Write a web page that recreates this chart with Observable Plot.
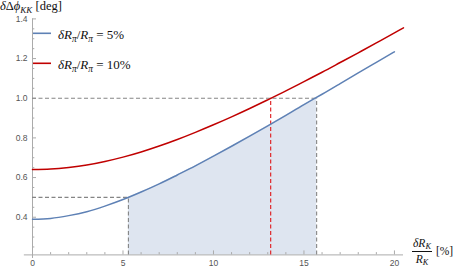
<!DOCTYPE html>
<html><head><meta charset="utf-8">
<script src="https://cdn.jsdelivr.net/npm/d3@7"></script>
<script src="https://cdn.jsdelivr.net/npm/@observablehq/plot@0.6"></script>
<style>
body{margin:0;background:#fff}
#wrap{position:relative;width:457px;height:271px;overflow:hidden}
#wrap svg{position:absolute;left:0;top:0}
.t{position:absolute;white-space:nowrap;font-family:"Liberation Serif","Times New Roman",serif;color:#111;line-height:1}
.t i{font-style:italic}
.t sub{font-size:72%;position:relative;top:0.28em;vertical-align:baseline;line-height:0}
.frac{display:inline-flex;flex-direction:column;align-items:center;vertical-align:middle}
.frac .num{border-bottom:0.8px solid #111;padding:0 1px 1px 1px}
.frac .den{padding-top:2px}
</style></head><body><div id="wrap"></div>
<script>
// ---- data ----
const xBlue = [0,1,2,3,4,5,6,7,8,9,10,11,12,13,14,15,16,17,18,19,20];
const blueVals = [0.390,0.394,0.408,0.428,0.456,0.489,0.527,0.568,0.613,0.659,0.708,0.758,0.809,0.861,0.914,0.968,1.020,1.074,1.128,1.181,1.234];
const xRed = [0,1,2,3,4,5,6,7,8,9,10,11,12,13,14,15,16,17,18,19,20,20.5];
const redVals = [0.640,0.643,0.651,0.663,0.681,0.703,0.729,0.759,0.792,0.828,0.866,0.906,0.948,0.992,1.037,1.084,1.131,1.180,1.229,1.279,1.330,1.355];
const lowCross = {x: 5.3, y: 0.5};    // blue reaches 0.5
const highCross = {x: 15.7, y: 1.0};  // blue reaches 1.0
const redCross = {x: 13.16, y: 1.0};  // red reaches 1.0
const xTicks = [0,5,10,15,20];
const xMinor = [1,2,3,4,6,7,8,9,11,12,13,14,16,17,18,19];
const yTicks = [0.4,0.6,0.8,1.0,1.2,1.4];
const yMinor = [0.25,0.3,0.35,0.45,0.5,0.55,0.65,0.7,0.75,0.85,0.9,0.95,1.05,1.1,1.15,1.25,1.3,1.35];
const xDomain = [0, 20.5];
const yDomain = [0.21, 1.4];

const blue = xBlue.map((x,i)=>({x, y: blueVals[i]}));
const red = xRed.map((x,i)=>({x, y: redVals[i]}));
const shade = [lowCross, ...blue.filter(d=>d.x>lowCross.x && d.x<highCross.x), highCross];

const cBlue = "#5E81B5", cRed = "#C00000", cRedDash = "#E0282A", cGray = "#858585", cAxis = "#ababab";
const yMin = yDomain[0];

const plot = Plot.plot({
  width: 457, height: 271,
  marginLeft: 32, marginRight: 54, marginTop: 18.4, marginBottom: 16.6,
  x: {domain: xDomain, axis: null},
  y: {domain: yDomain, axis: null},
  style: {background: "transparent", overflow: "visible"},
  marks: [
    Plot.areaY(shade, {x: "x", y1: yMin, y2: "y", fill: "#dee5f0", curve: "natural"}),
    // axes lines
    Plot.ruleY([yMin], {x1: -0.45, x2: xDomain[1], stroke: cAxis, strokeWidth: 1}),
    Plot.ruleX([0], {y1: 0.192, y2: yDomain[1], stroke: cAxis, strokeWidth: 1}),
    // ticks
    Plot.ruleX(xTicks, {x: d=>d, y1: yMin, y2: yMin, insetTop: -4, stroke: cAxis}),
    Plot.ruleX(xMinor, {x: d=>d, y1: yMin, y2: yMin, insetTop: -2.3, stroke: cAxis}),
    Plot.ruleY(yTicks, {y: d=>d, x1: 0, x2: 0, insetRight: -4, stroke: cAxis}),
    Plot.ruleY(yMinor, {y: d=>d, x1: 0, x2: 0, insetRight: -2.3, stroke: cAxis}),
    Plot.axisX({ticks: xTicks, tickSize: 0, tickPadding: 5, fontSize: 8.5, color: "#555", label: null, fontFamily: "Liberation Sans, Arial, sans-serif"}),
    Plot.axisY({ticks: yTicks, tickSize: 0, tickPadding: 5, fontSize: 8.5, color: "#555", label: null, tickFormat: d3.format(".1f"), fontFamily: "Liberation Sans, Arial, sans-serif"}),
    // dashed guides
    Plot.ruleY([lowCross], {y: "y", x1: 0, x2: "x", stroke: cGray, strokeWidth: 1.1, strokeDasharray: "4,2.5"}),
    Plot.ruleX([lowCross], {x: "x", y1: yMin, y2: "y", stroke: cGray, strokeWidth: 1.1, strokeDasharray: "4,2.5"}),
    Plot.ruleX([highCross], {x: "x", y1: yMin, y2: "y", stroke: cGray, strokeWidth: 1.1, strokeDasharray: "4,2.5"}),
    Plot.ruleX([redCross], {x: "x", y1: yMin, y2: "y", stroke: cRedDash, strokeWidth: 1.2, strokeDasharray: "4,2.5"}),
    Plot.ruleY([highCross], {y: "y", x1: 0, x2: "x", stroke: cGray, strokeWidth: 1.1, strokeDasharray: "4,2.5"}),
    // curves
    Plot.line(blue, {x: "x", y: "y", stroke: cBlue, strokeWidth: 1.5, curve: "natural"}),
    Plot.line(red, {x: "x", y: "y", stroke: cRed, strokeWidth: 1.5, curve: "natural"})
  ]
});
const wrap = document.getElementById("wrap");
wrap.appendChild(plot);

const html = `
<div class="t" style="left:0px;top:0px;font-size:12.5px"><i>δ</i>Δ<i>ϕ</i><sub><i>KK</i></sub> [deg]</div>
<svg width="60" height="80" style="position:absolute;left:0;top:0">
  <line x1="33" x2="51" y1="33.3" y2="33.3" stroke="${cBlue}" stroke-width="1.6"/>
  <line x1="33" x2="51" y1="63.3" y2="63.3" stroke="${cRed}" stroke-width="1.6"/>
</svg>
<div class="t" style="left:58px;top:28px;font-size:13px"><i>δR</i><sub><i>π</i></sub>/<i>R</i><sub><i>π</i></sub> = 5%</div>
<div class="t" style="left:58px;top:58px;font-size:13px"><i>δR</i><sub><i>π</i></sub>/<i>R</i><sub><i>π</i></sub> = 10%</div>
<div class="t" style="left:412px;top:238px;font-size:11.5px;display:flex;align-items:center">
  <span class="frac"><span class="num"><i>δR</i><sub><i>K</i></sub></span><span class="den"><i>R</i><sub><i>K</i></sub></span></span>
  <span style="margin-left:4px">[%]</span>
</div>`;
wrap.insertAdjacentHTML("beforeend", html);
</script>
</body></html>
